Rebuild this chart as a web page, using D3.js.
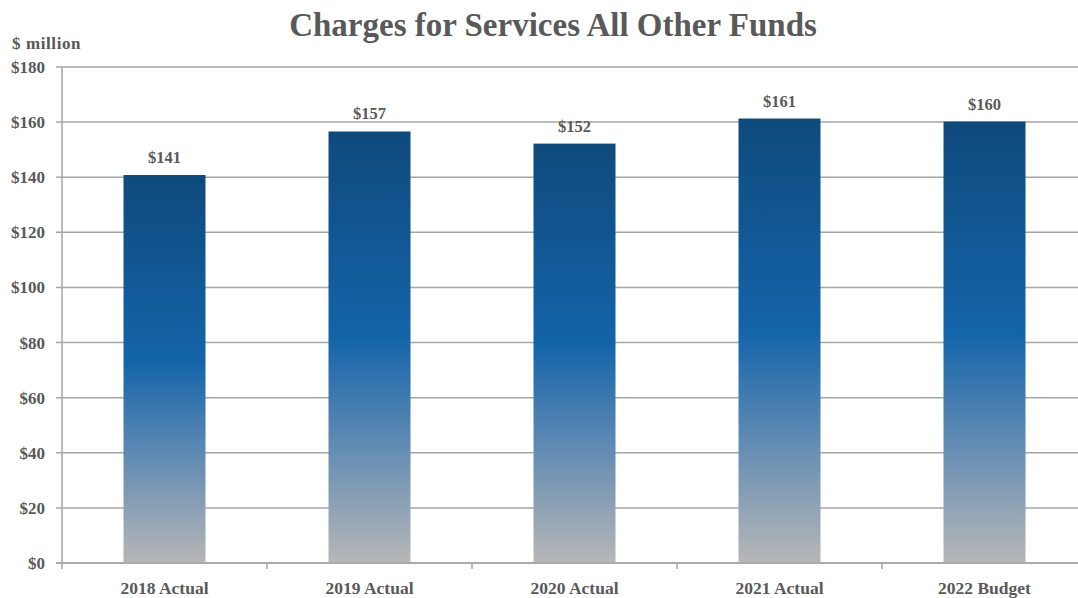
<!DOCTYPE html>
<html>
<head>
<meta charset="utf-8">
<script src="https://cdn.jsdelivr.net/npm/d3@7"></script>
<style>
  body { margin: 0; background: #fff; }
  text { font-family: "Palatino Linotype", "Book Antiqua", Palatino, "Liberation Serif", "DejaVu Serif", serif; font-weight: bold; fill: #595959; }
</style>
</head>
<body>
<div id="chart"></div>
<script>
// chart data
var categories = ["2018 Actual", "2019 Actual", "2020 Actual", "2021 Actual", "2022 Budget"];
var values = [140.8, 156.6, 152.2, 161.3, 160.2];
var yTicks = [0, 20, 40, 60, 80, 100, 120, 140, 160, 180];

var W = 1078, H = 598;
var margin = { left: 62, right: 0, top: 67, bottom: 35 };
var width = W - margin.left - margin.right;
var height = H - margin.top - margin.bottom;
var bandRange = 1025; // last category runs past the right edge

var svg = d3.select("#chart").append("svg")
    .attr("width", W)
    .attr("height", H);

var defs = svg.append("defs");
var grad = defs.append("linearGradient")
    .attr("id", "barGrad")
    .attr("x1", 0).attr("y1", 0).attr("x2", 0).attr("y2", 1);
grad.append("stop").attr("offset", "0%").attr("stop-color", "#0f4a7c");
grad.append("stop").attr("offset", "48%").attr("stop-color", "#1464aa");
grad.append("stop").attr("offset", "72%").attr("stop-color", "#5f8ab3");
grad.append("stop").attr("offset", "100%").attr("stop-color", "#b7b7b7");

svg.append("text")
    .attr("x", 553)
    .attr("y", 36)
    .attr("text-anchor", "middle")
    .style("font-size", "33px")
    .text("Charges for Services All Other Funds");

svg.append("text")
    .attr("x", 12)
    .attr("y", 49)
    .style("font-size", "17px")
    .style("letter-spacing", "0.6px")
    .text("$ million");

var g = svg.append("g")
    .attr("transform", "translate(" + margin.left + "," + margin.top + ")");

var x = d3.scaleBand()
    .domain(categories)
    .range([0, bandRange])
    .paddingInner(0.6)
    .paddingOuter(0.3);

var xOuter = d3.scaleBand().domain(categories).range([0, bandRange]);

var y = d3.scaleLinear()
    .domain([0, 180])
    .range([height, 0]);

// gridlines
g.selectAll(".grid")
    .data(yTicks)
  .enter().append("line")
    .attr("class", "grid")
    .attr("x1", -6)
    .attr("x2", width)
    .attr("y1", function(d){ return y(d); })
    .attr("y2", function(d){ return y(d); })
    .attr("stroke", "#a6a6a6")
    .attr("stroke-width", 1.5);

// y labels
g.selectAll(".ylab")
    .data(yTicks)
  .enter().append("text")
    .attr("class", "ylab")
    .attr("x", -17)
    .attr("y", function(d){ return y(d) + 6; })
    .attr("text-anchor", "end")
    .style("font-size", "17px")
    .text(function(d){ return "$" + d; });

// bars
g.selectAll(".bar")
    .data(values)
  .enter().append("rect")
    .attr("class", "bar")
    .attr("x", function(d, i){ return x(categories[i]); })
    .attr("width", x.bandwidth())
    .attr("y", function(d){ return y(d); })
    .attr("height", function(d){ return height - y(d); })
    .attr("fill", "url(#barGrad)");

// value labels
g.selectAll(".value")
    .data(values)
  .enter().append("text")
    .attr("class", "value")
    .attr("x", function(d, i){ return x(categories[i]) + x.bandwidth() / 2; })
    .attr("y", function(d){ return y(d) - 12; })
    .attr("text-anchor", "middle")
    .style("font-size", "16.5px")
    .text(function(d){ return "$" + Math.round(d); });

// axes lines
g.append("line")
    .attr("x1", 0).attr("x2", 0)
    .attr("y1", 0).attr("y2", height)
    .attr("stroke", "#a6a6a6").attr("stroke-width", 1.5);

g.append("line")
    .attr("x1", -6).attr("x2", width)
    .attr("y1", height).attr("y2", height)
    .attr("stroke", "#a6a6a6").attr("stroke-width", 1.5);

// x ticks at category boundaries
g.selectAll(".xtick")
    .data(categories.slice(1))
  .enter().append("line")
    .attr("class", "xtick")
    .attr("x1", function(d){ return xOuter(d); })
    .attr("x2", function(d){ return xOuter(d); })
    .attr("y1", height)
    .attr("y2", height + 6)
    .attr("stroke", "#a6a6a6").attr("stroke-width", 1.5);

g.append("line")
    .attr("x1", 0).attr("x2", 0)
    .attr("y1", height).attr("y2", height + 6)
    .attr("stroke", "#a6a6a6").attr("stroke-width", 1.5);

// category labels
g.selectAll(".name")
    .data(categories)
  .enter().append("text")
    .attr("class", "name")
    .attr("x", function(d){ return xOuter(d) + xOuter.bandwidth() / 2; })
    .attr("y", height + 31)
    .attr("text-anchor", "middle")
    .style("font-size", "17.5px")
    .text(function(d){ return d; });
</script>
</body>
</html>
